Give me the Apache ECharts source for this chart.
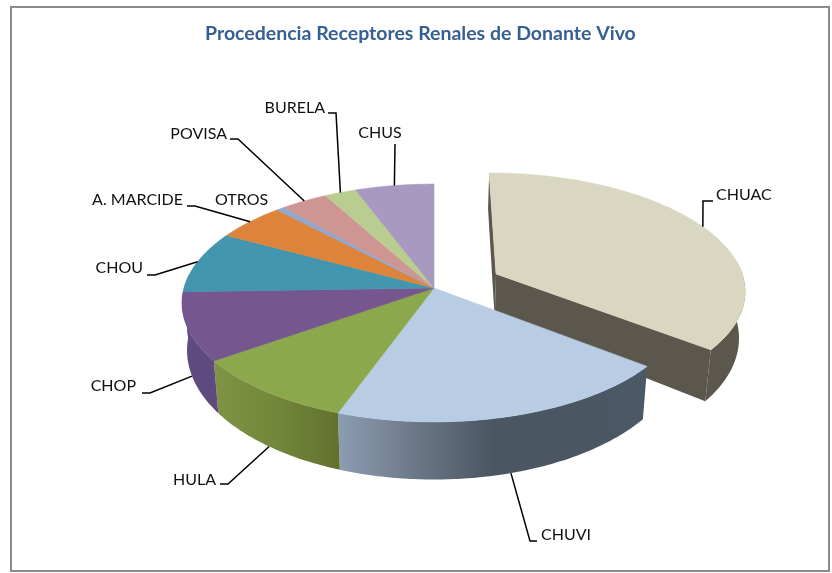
<!DOCTYPE html>
<html>
<head>
<meta charset="utf-8">
<style>html,body{margin:0;padding:0;background:#fff}#c{width:832px;height:573px}</style>
<script src="https://cdn.jsdelivr.net/npm/echarts@6/dist/echarts.min.js"></script>
</head>
<body>
<div id="c"></div>
<script>
// ---- data (share of recipients, %) ----
const categories = ['CHUAC','CHUVI','HULA','CHOP','CHOU','A. MARCIDE','OTROS','POVISA','BURELA','CHUS'];
const shares = [35.6,19.9,9.7,9.3,8.4,5.1,0.6,3.4,2.3,5.7];
const exploded = [0.28,0,0,0,0,0,0,0,0,0];
const chartTitle = 'Procedencia Receptores Renales de Donante Vivo';

// ---- styles ----
const topColors = ['#D9D7C1','#B8CCE4','#8BA84C','#76568F','#4296B0','#DE843A','#8EA8D0','#CF9593','#B9CD90','#A899C1'];
const sideColors = [
  ['#5C574C','#5C574C'],
  ['#8C9DB2','#6B7888','#4A5662','#4A5662','#4B5966'],
  ['#7F9345','#73863A','#61712E'],
  ['#5F4B80','#5F4A7E'],
  ['#5F4A7E','#5F4A7E'],['#A8622A','#A8622A'],['#6A7E9C','#6A7E9C'],
  ['#9B706E','#9B706E'],['#8B9A6C','#8B9A6C'],['#7E7391','#7E7391']
];
// ---- label layout: elbow points of the leader and text placement ----
const leaderBends = [
  [[703,201],[713,201]], [[530,541],[537,541]], [[228,484],[220,484]], [[150,393],[142,393]],
  [[155,275],[147,275]], [[195,206],[187,206]], null, [[238,139],[230,139]],
  [[336,113],[328,113]], [[395,144]]
];
const labelPlaces = [
  [716,195,'left'],[541,535,'left'],[216,480,'right'],[136,386,'right'],
  [143,268,'right'],[183,200,'right'],[215,200,'left'],[227,134,'right'],
  [325,108,'right'],[380,133,'center']
];
const frontFacing = [false,true,true,true,false,false,false,false,false,false];

// ---- perspective projection of the pie disc ----
const view = {cx:434, cy:288, rx:250, ry:117, k:0.126, sx:0.98, sy:1.087, drop:46};
function topPoint(u,v){
  const w = 1 + view.k*v;
  return [view.cx + view.rx*u/w, view.cy - view.ry*v/w];
}
function lower(p){
  return [view.cx + (p[0]-view.cx)*view.sx, view.cy + (p[1]-view.cy)*view.sy + view.drop];
}
const total = shares.reduce((a,b)=>a+b,0);
function renderItem(params, api){
  const i = params.dataIndex;
  const val = api.value(0);
  let before = 0;
  for(let j=0;j<i;j++) before += shares[j];
  const a0 = before/total*Math.PI*2, a1 = (before+val)/total*Math.PI*2, mid=(a0+a1)/2;
  const ex = exploded[i];
  const ou = ex*Math.sin(mid), ov = ex*Math.cos(mid);
  const at = a => topPoint(Math.sin(a)+ou, Math.cos(a)+ov);
  const apex = topPoint(ou,ov);
  const arc = [], rim = [];
  const n = Math.max(2,Math.ceil((a1-a0)/(Math.PI/240)));
  for(let s=0;s<=n;s++){
    const a = a0+(a1-a0)*s/n;
    const p = at(a);
    arc.push(p);
    if(Math.cos(a) < 0.12) rim.push(p);   // only the part of the rim that faces the viewer
  }
  const children = [];
  const sc = sideColors[i];
  const stops = sc.map((c,j)=>({offset:j/(sc.length-1),color:c}));
  if(ex>0){
    const flat = sc[0];
    [[arc[0],apex],[apex,arc[n]]].forEach(e=>{
      children.push({type:'polygon',z2:1,shape:{points:[e[0],e[1],lower(e[1]),lower(e[0])]},style:{fill:flat}});
    });
  }
  if(rim.length>1){
    children.push({type:'polygon',z2:1,
      shape:{points:rim.concat(rim.slice().reverse().map(lower))},
      style:{fill:new echarts.graphic.LinearGradient(0,0,1,0,stops)}});
  }
  children.push({type:'polygon',z2:3,shape:{points:[apex].concat(arc)},
    style:{fill:topColors[i],stroke:topColors[i],lineWidth:0.6}});
  if(leaderBends[i]){
    const s = at(mid);
    const start = frontFacing[i] ? lower(s) : s;
    children.push({type:'polyline',z2:5,shape:{points:[start].concat(leaderBends[i])},
      style:{fill:null,stroke:'#000',lineWidth:1.5}});
  }
  const lp = labelPlaces[i];
  children.push({type:'text',z2:6,style:{text:categories[i],x:lp[0],y:lp[1],align:lp[2],verticalAlign:'middle',
    font:'16px Lato, Carlito, sans-serif',fill:'#111'}});
  return {type:'group',children};
}
const chart = echarts.init(document.getElementById('c'),null,{renderer:'canvas'});
chart.setOption({
  animation:false,
  backgroundColor:'#fff',
  title:{text:chartTitle,left:205,top:24,padding:0,
    textStyle:{fontFamily:'Lato, Carlito, sans-serif',fontSize:19.5,fontWeight:'bold',color:'#376092'}},
  graphic:[{type:'rect',z:-1,silent:true,shape:{x:11,y:7,width:818,height:564},
    style:{fill:'#fff',stroke:'#8C8C8C',lineWidth:2}}],
  series:[{type:'custom',coordinateSystem:'none',clip:false,silent:true,
    data:shares.map((v,i)=>({value:[v,i],name:categories[i]})),
    renderItem}]
});
</script>
</body>
</html>
